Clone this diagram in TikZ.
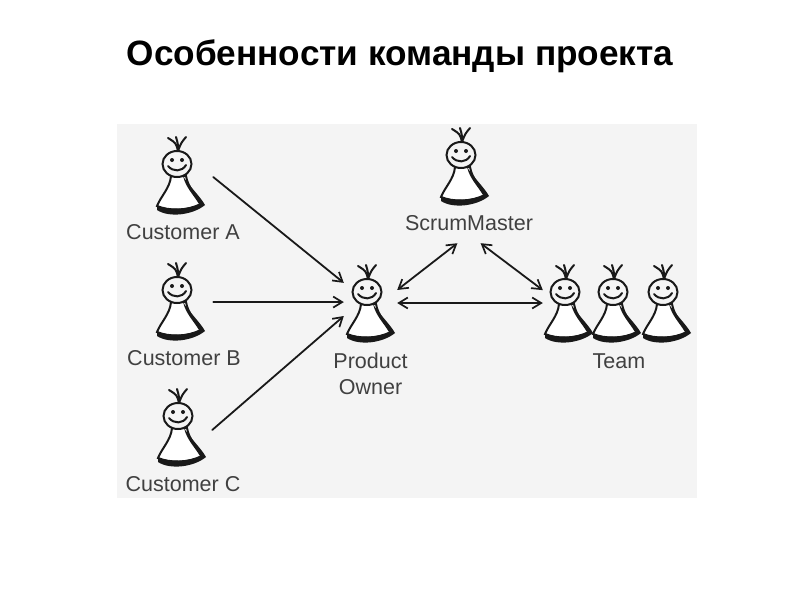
\documentclass[tikz,border=0pt]{standalone}
\usepackage{fontspec}
\setmainfont{Liberation Sans}
\usetikzlibrary{positioning,arrows.meta}
\definecolor{panel}{RGB}{244,244,244}
\definecolor{ink}{RGB}{25,25,25}
\definecolor{labeltext}{RGB}{64,64,64}
\begin{document}
\begin{tikzpicture}[x=1pt,y=-1pt,
  who/.style={minimum width=#1, minimum height=60pt, inner sep=0pt},
  who/.default=72pt,
  lab/.style={font=\fontsize{21.5}{25}\selectfont, text=labeltext, align=center, inner sep=0pt},
  arr/.style={-{Straight Barb[length=9pt,width=11pt,line width=1.7pt]}, line width=1.8pt, draw=ink, line cap=round},
  twoway/.style={arr, {Straight Barb[length=9pt,width=11pt,line width=1.7pt]}-{Straight Barb[length=9pt,width=11pt,line width=1.7pt]}},
  person/.pic={
    \draw[ink, line width=2pt, line cap=round] (1,-13) .. controls (1,-20) .. (-1,-27);
    \draw[ink, line width=2pt, line cap=round] (1,-13) .. controls (-1,-21) .. (-9,-26);
    \draw[ink, line width=2pt, line cap=round] (1,-13) .. controls (4,-21) .. (9,-27);
    \draw[ink, line width=2pt, fill=white] (-6,12) .. controls (-7,24) and (-16,32) .. (-20,42)
      .. controls (-8,47) and (10,47) .. (24,40) .. controls (19,30) and (11,24) .. (9,12) -- cycle;
    \fill[ink] (6,12) .. controls (12,22) and (23,32) .. (28,41) .. controls (16,51) and (-8,54) .. (-20,46)
      -- (-20,42) .. controls (-8,46) and (10,46) .. (22,40) .. controls (16,30) and (9,24) .. (6,12) -- cycle;
    \draw[ink, line width=2pt, fill=panel] (0,0) circle[x radius=14.5pt, y radius=13pt];
    \fill[ink] (-5,-4) circle[radius=2pt] (5,-4) circle[radius=2pt];
    \draw[ink, line width=2pt, line cap=round] (-9,2) .. controls (-4,8) and (5,8) .. (9,1);
  }
]
\useasboundingbox (0,0) rectangle (800,600);
\fill[panel] (117,124) rectangle (697,498);
\node[font=\bfseries\fontsize{35.2}{40}\selectfont, inner sep=0pt] (title) at (400,56) {Особенности команды проекта};

\foreach \hx/\hy in {177/164, 177/290, 178/416, 367/292, 461/155, 565/292, 613/292, 663/292}
  \pic at (\hx,\hy) {person};

\node[who] (custA) at (177,177) {};
\node[who] (custB) at (177,302) {};
\node[who] (custC) at (176,430) {};
\node[who=53pt] (owner) at (370.5,303) {};
\node[who=120pt, minimum height=100pt] (master) at (469,193) {};
\node[who=48pt] (team1) at (567,303) {};

\node[lab, below=17pt of custA, xshift=6pt] (labA) {Customer A};
\node[lab, below=18pt of custB, xshift=7pt] (labB) {Customer B};
\node[lab, below=16pt of custC, xshift=7pt] (labC) {Customer C};
\node[lab, below=20pt of owner] (labO) {Product\\[1pt]Owner};
\node[lab] (labM) at (469,223) {ScrumMaster};
\node[lab, below=20pt of team1, xshift=52pt] (labT) {Team};

\draw[arr] (custA.east) -- (owner.143);
\draw[arr] (custB.east) -- (owner.178);
\draw[arr] (custC.east) -- (owner.206);
\draw[twoway] (owner.26) -- (master.257);
\draw[twoway] (master.283) -- (team1.152);
\draw[twoway] (owner.east) -- (team1.west);
\end{tikzpicture}
\end{document}
